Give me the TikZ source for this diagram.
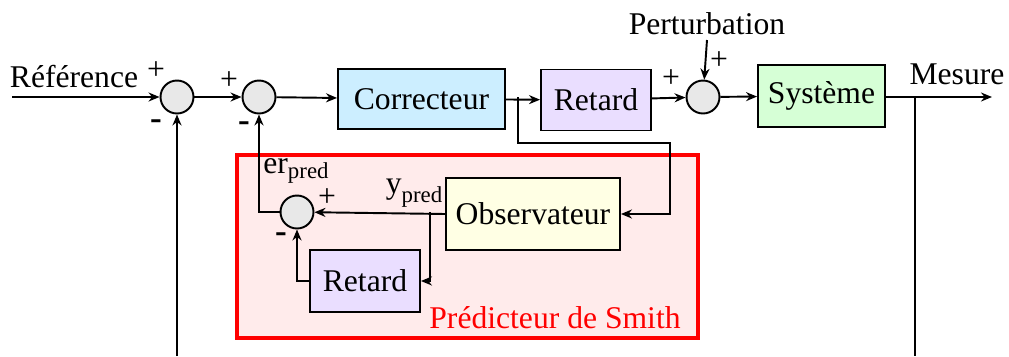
\documentclass[tikz,border=0pt]{standalone}
\usepackage{fontspec}
\setmainfont{Liberation Serif}
\usetikzlibrary{arrows.meta,positioning}

\definecolor{corrblue}{RGB}{204,238,255}
\definecolor{retlav}{RGB}{234,222,255}
\definecolor{sysgreen}{RGB}{214,255,214}
\definecolor{obsyellow}{RGB}{255,255,228}
\definecolor{smithpink}{RGB}{255,235,235}

\tikzset{
  block/.style={draw,line width=1.1pt,inner sep=0pt,font=\fontsize{18}{20}\selectfont},
  sum/.style={draw,circle,line width=1.1pt,fill=gray!18,minimum size=0.66cm,inner sep=0pt},
  sign/.style={font=\fontsize{18}{20}\selectfont,inner sep=0pt},
  minus/.style={font=\fontsize{20}{20}\selectfont\bfseries,inner sep=0pt},
  lbl/.style={font=\fontsize{18}{20}\selectfont,inner sep=0pt}
}

\begin{document}
\begin{tikzpicture}[x=0.02cm,y=-0.02cm,line width=1.1pt,>={Stealth[length=2.2mm,width=1.8mm]}]
  \useasboundingbox (0,0) rectangle (1009,356);

  % Smith predictor frame
  \draw[red,line width=1.8pt,fill=smithpink] (237,155) rectangle (698,338);
  \node[lbl,text=red] (smith) at (555,318) {Prédicteur de Smith};

  % summers
  \node[sum] (s1) at (177,97) {};
  \node[sum] (s2) at (259,97) {};
  \node[sum] (s4) at (703,97) {};
  \node[sum] (s3) at (297,212) {};

  % blocks
  \node[block,fill=corrblue,minimum width=3.34cm,minimum height=1.2cm] (corr) at (421.5,99) {Correcteur};
  \node[block,fill=retlav,minimum width=2.2cm,minimum height=1.22cm] (ret) at (596,100) {Retard};
  \node[block,fill=sysgreen,minimum width=2.54cm,minimum height=1.24cm] (sys) at (821.5,96) {Système};
  \node[block,fill=obsyellow,minimum width=3.48cm,minimum height=1.44cm] (obs) at (533,214) {Observateur};
  \node[block,fill=retlav,minimum width=2.2cm,minimum height=1.24cm] (ret2) at (365,281) {Retard};

  % texts
  \node[lbl] (ref) at (74,77) {Référence};
  \node[lbl] (pert) at (707,24) {Perturbation};
  \node[lbl] (mes) at (957,74) {Mesure};
  \node[lbl] (erp) at (296,171) {er\raisebox{-0.35ex}{\fontsize{13}{13}\selectfont pred}};
  \node[lbl] (yp) at (414,193) {y\raisebox{-0.6ex}{\fontsize{13}{13}\selectfont pred}};

  % signs
  \node[sign] at (156,71) {+};
  \node[minus] at (156,125) {-};
  \node[sign] at (229,81) {+};
  \node[minus] at (244,127) {-};
  \node[sign] at (671,79) {+};
  \node[sign] at (719,61) {+};
  \node[sign] at (327,198) {+};
  \node[minus] at (281,238) {-};

  \coordinate (in) at (12,97);
  \coordinate (out) at (992,97);
  \coordinate (pt) at (707,40);
  \coordinate (br1) at (518,97);
  \coordinate (br2) at (915,97);
  \coordinate (br3) at (430,212);
  \coordinate (fb1) at (177,356);
  \coordinate (fb2) at (915,356);

  % main chain
  \draw[->] (in) -- (s1);
  \draw[->] (s1) -- (s2);
  \draw[->] (s2) -- (corr);
  \draw[->] (corr) -- (ret);
  \draw[->] (ret) -- (s4);
  \draw[->] (s4) -- (sys);
  \draw[->] (sys.east |- out) -- (out);
  \draw[->] (pt) -- (s4);

  % feedback
  \draw (br2) -- (fb2);
  \draw[->] (fb1) -- (s1);

  % predictor
  \draw[->] (br1) |- (670,143) |- (obs.east);
  \draw[->] (obs.west) -- (s3);
  \draw[->] (br3) |- (ret2.east);
  \draw[->] (ret2.west) -| (s3.south);
  \draw[->] (s3.west) -| (s2.south);
\end{tikzpicture}
\end{document}
